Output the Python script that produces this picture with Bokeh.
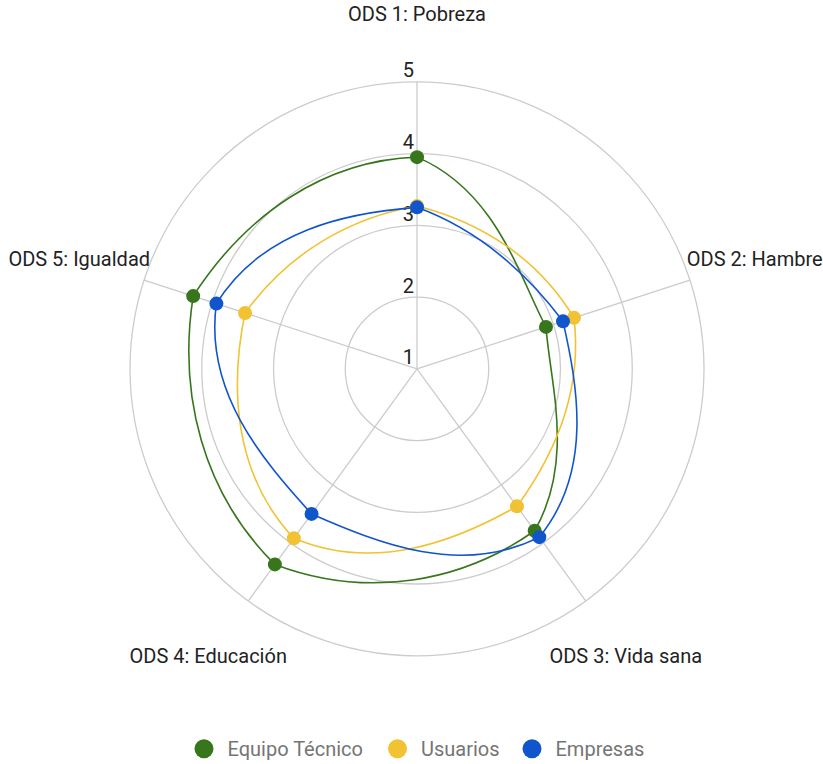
import numpy as np
from bokeh.plotting import figure
from bokeh.models import Range1d
from bokeh.core.properties import value
from bokeh.embed import file_html
from bokeh.resources import INLINE

# ---------------- data ----------------
axis_labels = ["ODS 1: Pobreza", "ODS 2: Hambre", "ODS 3: Vida sana",
               "ODS 4: Educación", "ODS 5: Igualdad"]
series_names = ["Equipo Técnico", "Usuarios", "Empresas"]
equipo_tecnico = [3.95, 2.89, 3.79, 4.37, 4.28]
usuarios = [3.27, 3.30, 3.37, 3.92, 3.52]
empresas = [3.25, 3.14, 3.90, 3.50, 3.94]
tick_values = [1, 2, 3, 4, 5]
series_colors = ["#38761d", "#f1c232", "#1155cc"]

# ---------------- layout ----------------
W, H = 823, 764
SCALE = 71.75            # pixels per value unit
CX, CY = 416.5, 368.3    # radar centre inside the figure (px)
R_MIN = tick_values[0]
R_MAX = tick_values[-1] - R_MIN
LABEL_R = 4.95
FONT = value("Roboto")
K = 1.0 / 6.0            # smoothing strength

p = figure(width=W, height=H, output_backend="svg", toolbar_location=None,
           x_axis_type=None, y_axis_type=None, min_border=0,
           x_range=Range1d(-CX / SCALE, (W - CX) / SCALE),
           y_range=Range1d(-(H - CY) / SCALE, CY / SCALE))
p.grid.visible = False
p.outline_line_color = None
p.background_fill_color = "white"
p.border_fill_color = "white"

n = len(axis_labels)
theta = np.arange(n) * 2 * np.pi / n   # clockwise from top


def to_xy(r, th):
    return r * np.sin(th), r * np.cos(th)


# grid rings
rings = [t - R_MIN for t in tick_values if t > R_MIN]
p.circle(x=[0] * len(rings), y=[0] * len(rings), radius=rings,
         fill_color=None, line_color="#cccccc", line_width=1.3)

# spokes
ex, ey = to_xy(R_MAX, theta)
p.segment(x0=[0] * n, y0=[0] * n, x1=ex, y1=ey, line_color="#cccccc", line_width=1.3)

# tick labels
p.text(x=[0] * len(tick_values), y=[t - R_MIN for t in tick_values],
       text=[str(t) for t in tick_values], text_align="right",
       text_baseline="alphabetic", x_offset=-3, y_offset=-12,
       text_font=FONT, text_font_size="20px", text_color="#222222")

# axis labels
lx, ly = to_xy(LABEL_R, theta)
p.text(x=lx, y=ly, text=axis_labels, text_align="center", text_baseline="middle",
       text_font=FONT, text_font_size="20px", text_color="#222222")

# series curves (smoothed in polar space, bezier segments)
all_series = [equipo_tecnico, usuarios, empresas]
for vals, col in zip(all_series, series_colors):
    r = np.array(vals, dtype=float) - R_MIN
    step = 2 * np.pi / n
    x0, y0, x1, y1, cx0, cy0, cx1, cy1 = ([] for _ in range(8))
    for i in range(n):
        j = (i + 1) % n
        rp = r[(i - 1) % n]
        rn2 = r[(i + 2) % n]
        th0 = theta[i]
        th1 = th0 + step
        c0r = r[i] + K * (r[j] - rp)
        c0t = th0 + K * 2 * step
        c1r = r[j] - K * (rn2 - r[i])
        c1t = th1 - K * 2 * step
        a, b = to_xy(r[i], th0)
        c, d = to_xy(r[j], th1)
        e, f = to_xy(c0r, c0t)
        g, h = to_xy(c1r, c1t)
        x0.append(a); y0.append(b); x1.append(c); y1.append(d)
        cx0.append(e); cy0.append(f); cx1.append(g); cy1.append(h)
    p.bezier(x0=x0, y0=y0, x1=x1, y1=y1, cx0=cx0, cy0=cy0, cx1=cx1, cy1=cy1,
             line_color=col, line_width=1.6)

for vals, col in zip(all_series, series_colors):
    r = np.array(vals, dtype=float) - R_MIN
    px, py = to_xy(r, theta)
    p.scatter(px, py, size=14, fill_color=col, line_color=None)

# legend (manual, centred at the bottom)
def page_to_data(sx, sy):
    return (sx - CX) / SCALE, (CY - sy) / SCALE

legend_dot_x = [203.5, 397.0, 531.5]
legend_y = 748.3
for name, col, dx in zip(series_names, series_colors, legend_dot_x):
    mx, my = page_to_data(dx, legend_y)
    p.scatter([mx], [my], size=19, fill_color=col, line_color=None)
    tx, ty = page_to_data(dx + 23.5, legend_y)
    p.text(x=[tx], y=[ty], text=[name], text_align="left", text_baseline="middle",
           text_font=FONT, text_font_size="20px", text_color="#757575")

open("out.html", "w").write(file_html(p, INLINE))
